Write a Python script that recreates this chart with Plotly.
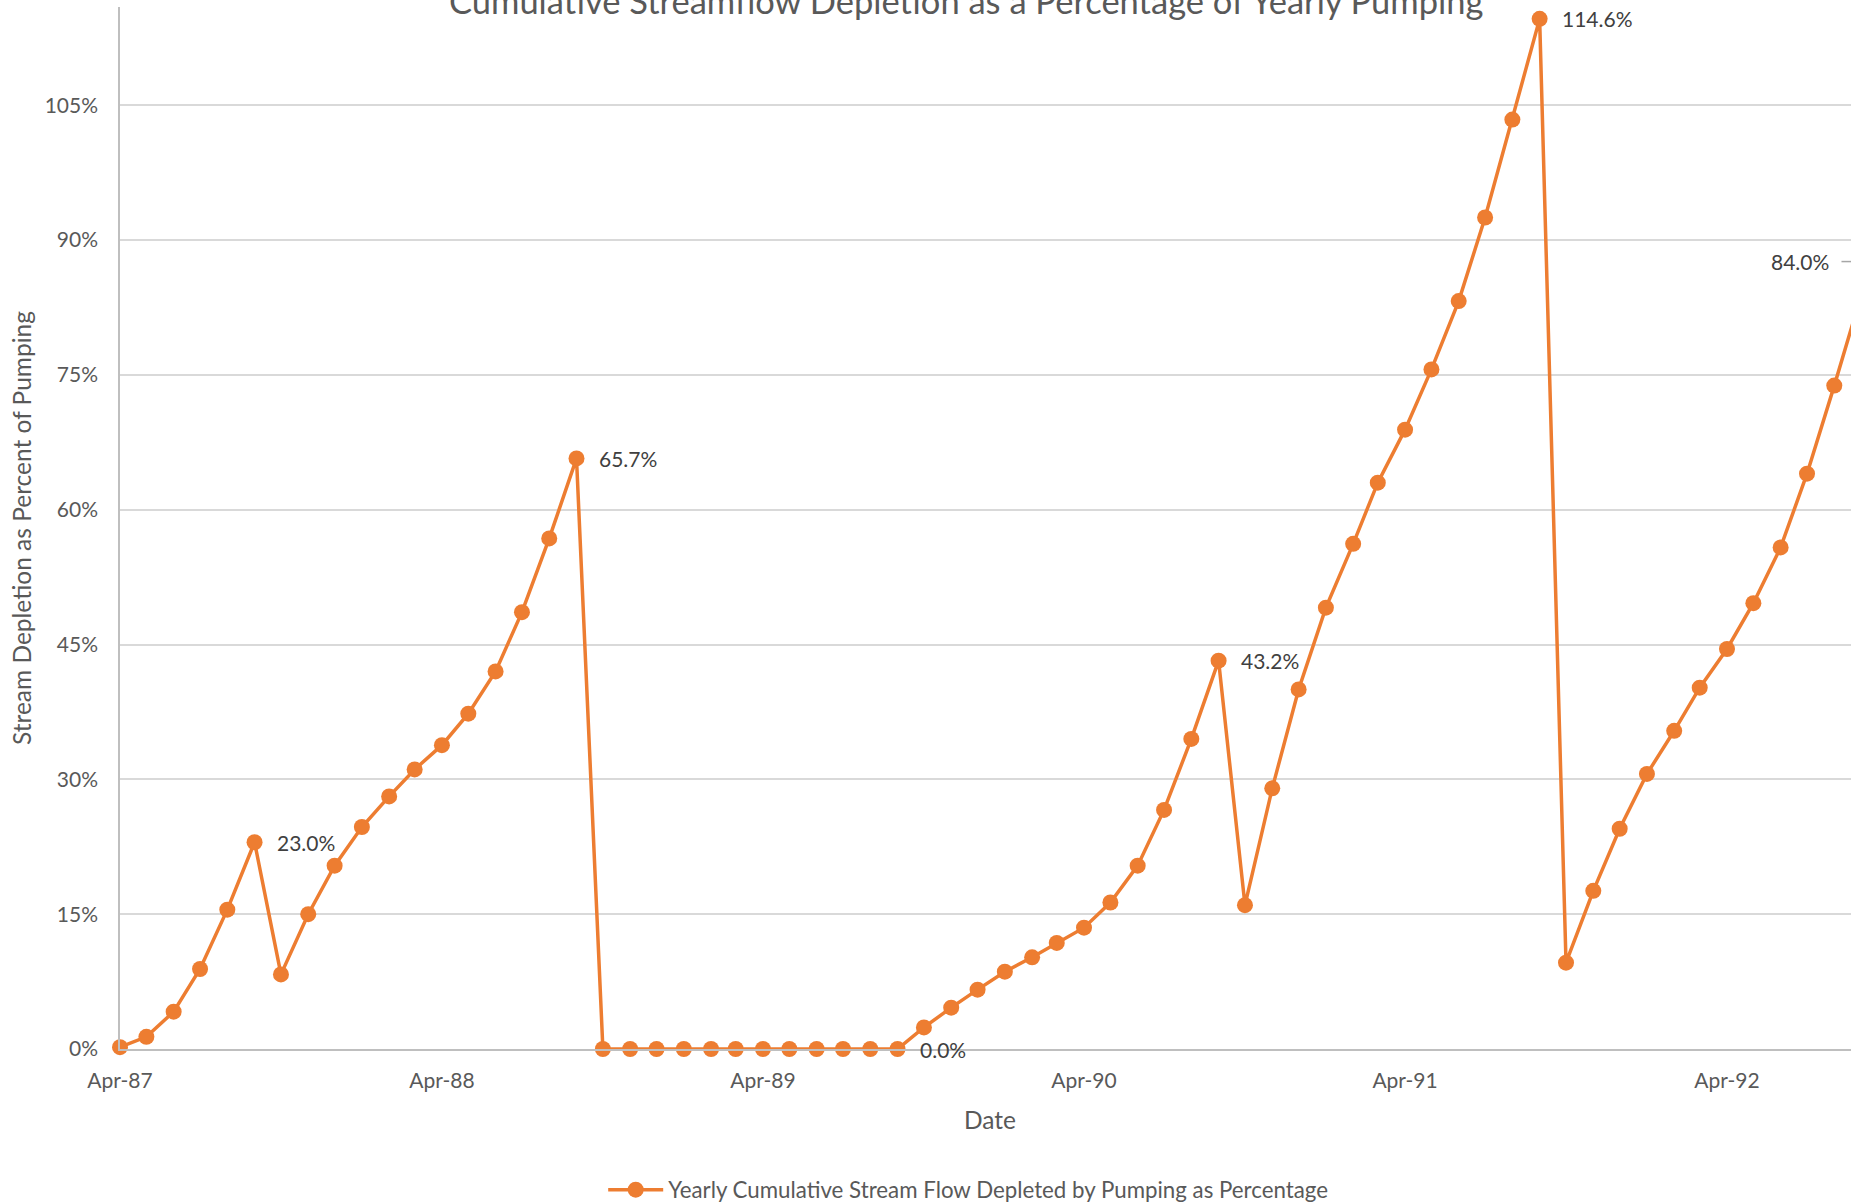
import plotly.graph_objects as go
import pandas as pd

# ---- data ----
months = pd.date_range("1987-04-01", "1992-09-01", freq="MS").strftime("%Y-%m-%d").tolist()
depletion_pct = [
    0.2, 1.35, 4.15, 8.9, 15.5, 23.0, 8.3, 15.0, 20.4,                      # Apr-87 .. Dec-87
    24.7, 28.1, 31.1, 33.8, 37.3, 42.0, 48.6, 56.8, 65.7, 0.0, 0.0, 0.0,    # 1988
    0.0, 0.0, 0.0, 0.0, 0.0, 0.0, 0.0, 0.0, 0.0, 2.4, 4.6, 6.6,             # 1989
    8.6, 10.2, 11.8, 13.5, 16.3, 20.4, 26.6, 34.5, 43.2, 16.0, 29.0, 40.0,  # 1990
    49.1, 56.2, 63.0, 68.9, 75.6, 83.2, 92.5, 103.4, 114.6, 9.6, 17.6, 24.5,  # 1991
    30.6, 35.4, 40.2, 44.5, 49.6, 55.8, 64.0, 73.8, 84.0,                   # 1992
]
label_months = ["1987-09-01", "1988-09-01", "1989-09-01", "1990-09-01", "1991-09-01"]
offscreen_label_month = "1992-09-01"
y_ticks = [0, 15, 30, 45, 60, 75, 90, 105]
x_tick_start = "1987-04-01"

title_text = "Cumulative Streamflow Depletion as a Percentage of Yearly Pumping"
series_name = "Yearly Cumulative Stream Flow Depleted by Pumping as Percentage"

ORANGE = "#ED7D31"
TXT = "#595959"
LBL = "#404040"
FONT = "Lato"

y_frac = [v / 100 for v in depletion_pct]

fig = go.Figure()
fig.add_trace(go.Scatter(
    x=months, y=y_frac, mode="lines+markers", name=series_name,
    line=dict(color=ORANGE, width=3.5),
    marker=dict(color=ORANGE, size=16),
    cliponaxis=False,
))

annotations = []
for m in label_months:
    v = depletion_pct[months.index(m)]
    annotations.append(dict(
        x=m, y=v / 100, xref="x", yref="y", text=f"{v:.1f}%", showarrow=False,
        xanchor="left", yanchor="middle", xshift=20,
        font=dict(family=FONT, size=21, color=LBL),
    ))
v_off = depletion_pct[months.index(offscreen_label_month)]
annotations.append(dict(
    x=1, y=v_off / 100, xref="paper", yref="y", text=f"{v_off:.1f}%", showarrow=False,
    xanchor="right", yanchor="middle", xshift=-20, yshift=32,
    font=dict(family=FONT, size=21, color=LBL),
))
annotations.append(dict(
    x=0.5, y=1.0, xref="paper", yref="paper", text=title_text, showarrow=False,
    xanchor="center", yanchor="middle", xshift=-19, yshift=7,
    font=dict(family=FONT, size=34.5, color=TXT),
))
annotations.append(dict(
    x=0.5, y=0, xref="paper", yref="paper", text="Date", showarrow=False,
    xanchor="center", yanchor="middle", xshift=4, yshift=-70,
    font=dict(family=FONT, size=24.5, color=TXT),
))

fig.update_layout(
    width=1851, height=1204,
    margin=dict(l=120, r=0, t=7, b=154.5, autoexpand=False),
    paper_bgcolor="white", plot_bgcolor="white",
    font=dict(family=FONT, size=21, color=TXT),
    showlegend=True,
    legend=dict(orientation="h", x=0.49, xanchor="center", y=-0.135,
                yanchor="middle", itemwidth=55,
                font=dict(family=FONT, size=22.3, color=TXT)),
    annotations=annotations,
    shapes=[dict(type="line", xref="paper", yref="y", x0=0.9945, x1=1.0,
                 y0=v_off / 100 + 0.036, y1=v_off / 100 + 0.036,
                 line=dict(color="#A6A6A6", width=1.5))],
)

fig.update_xaxes(
    type="date", range=["1987-04-01", "1992-08-20"], automargin=False,
    tick0=x_tick_start, dtick="M12", tickformat="%b-%y",
    showgrid=False, showline=True, linecolor="#BFBFBF", linewidth=1.5,
    ticks="", ticklabelstandoff=12, zeroline=False,
    tickfont=dict(family=FONT, size=21, color=TXT),
)
fig.update_yaxes(
    range=[0, 1.1592], automargin=False, tickvals=[t / 100 for t in y_ticks], tickformat=".0%",
    showgrid=True, gridcolor="#D9D9D9", gridwidth=1.5,
    showline=True, linecolor="#BFBFBF", linewidth=1.5,
    ticks="", ticklabelstandoff=16, zeroline=False,
    title=dict(text="Stream Depletion as Percent of Pumping", standoff=6,
               font=dict(family=FONT, size=24.5, color=TXT)),
    tickfont=dict(family=FONT, size=21, color=TXT),
)

fig.write_html("out.html", config={"displayModeBar": False},
               post_script="document.body.style.margin='0';document.body.style.overflow='hidden';")
